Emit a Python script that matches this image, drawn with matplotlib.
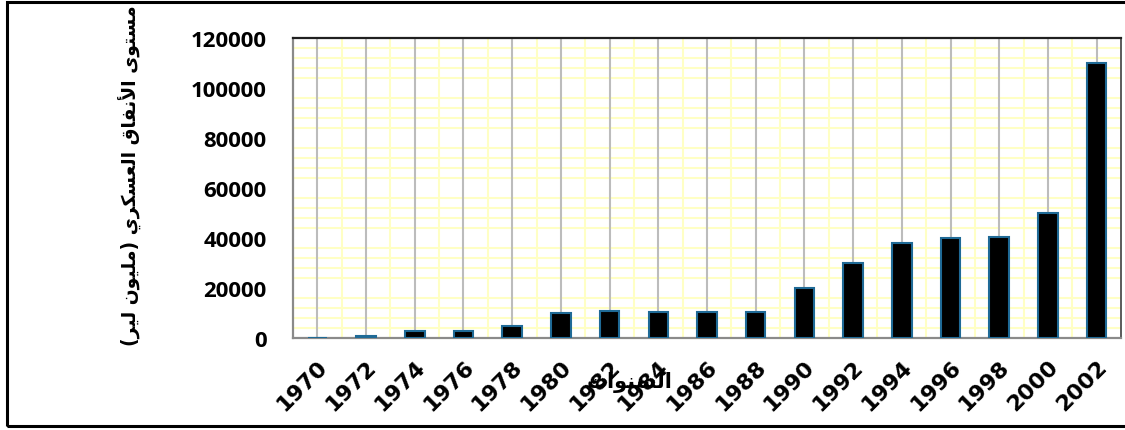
import numpy as np
import matplotlib
matplotlib.use("Agg")
import matplotlib.pyplot as plt
from matplotlib.patches import Rectangle
from matplotlib.ticker import MultipleLocator, FixedLocator

years = ["1970", "1972", "1974", "1976", "1978", "1980", "1982", "1984", "1986",
         "1988", "1990", "1992", "1994", "1996", "1998", "2000", "2002"]
spending = [0, 1000, 3000, 3000, 5000, 10000, 11000, 10500, 10300,
            10500, 20000, 30000, 38000, 40000, 40500, 50000, 110000]
y_ticks = [0, 20000, 40000, 60000, 80000, 100000, 120000]
y_title = "مستوى الأنفاق العسكري (مليون لير)"
x_title = "السنوات"

# matplotlib has no arabic shaping, so pick presentation forms by hand
FORMS = {
    'ا': ('\uFE8D', '\uFE8E', None, None),
    'أ': ('\uFE83', '\uFE84', None, None),
    'ت': ('\uFE95', '\uFE96', '\uFE97', '\uFE98'),
    'ر': ('\uFEAD', '\uFEAE', None, None),
    'س': ('\uFEB1', '\uFEB2', '\uFEB3', '\uFEB4'),
    'ع': ('\uFEC9', '\uFECA', '\uFECB', '\uFECC'),
    'ف': ('\uFED1', '\uFED2', '\uFED3', '\uFED4'),
    'ق': ('\uFED5', '\uFED6', '\uFED7', '\uFED8'),
    'ك': ('\uFED9', '\uFEDA', '\uFEDB', '\uFEDC'),
    'ل': ('\uFEDD', '\uFEDE', '\uFEDF', '\uFEE0'),
    'م': ('\uFEE1', '\uFEE2', '\uFEE3', '\uFEE4'),
    'ن': ('\uFEE5', '\uFEE6', '\uFEE7', '\uFEE8'),
    'و': ('\uFEED', '\uFEEE', None, None),
    'ى': ('\uFEEF', '\uFEF0', None, None),
    'ي': ('\uFEF1', '\uFEF2', '\uFEF3', '\uFEF4'),
}
LAM_ALEF = {'ا': ('\uFEFB', '\uFEFC'), 'أ': ('\uFEF7', '\uFEF8')}


def shape(s):
    toks = []
    i = 0
    while i < len(s):
        if s[i] == 'ل' and i + 1 < len(s) and s[i + 1] in LAM_ALEF:
            toks.append(('LIG', s[i + 1]))
            i += 2
        else:
            toks.append((s[i], None))
            i += 1

    def dual(t):
        return t[0] in FORMS and FORMS[t[0]][2] is not None

    def arabic(t):
        return t[0] == 'LIG' or t[0] in FORMS

    out = []
    for k, t in enumerate(toks):
        pj = k > 0 and dual(toks[k - 1]) and arabic(t)
        nj = k + 1 < len(toks) and dual(t) and arabic(toks[k + 1])
        if t[0] == 'LIG':
            out.append(LAM_ALEF[t[1]][1 if pj else 0])
        elif t[0] in FORMS:
            f = FORMS[t[0]]
            idx = 3 if (pj and nj) else 2 if nj else 1 if pj else 0
            out.append(f[idx])
        else:
            out.append(t[0])
    vis = ''.join(out)[::-1]
    return vis.translate(str.maketrans('()', ')('))


fig = plt.figure(figsize=(11.25, 4.31), dpi=100)
ax = fig.add_axes([293 / 1125, 1 - 339 / 431, (1121 - 293) / 1125, (339 - 39) / 431])

x = np.arange(len(years))
ax.bar(x, spending, width=0.4, color='black', edgecolor='#1f6a96', linewidth=1.5, zorder=3)

ax.set_xlim(-0.5, len(years) - 0.5)
ax.set_ylim(0, 120000)
ax.set_yticks(y_ticks)
ax.set_yticklabels([str(v) for v in y_ticks], fontsize=16, fontweight='bold', family='Open Sans')
ax.yaxis.set_minor_locator(MultipleLocator(4000))
ax.set_xticks(x)
ax.set_xticklabels(years, rotation=45, ha='right', va='top', rotation_mode='anchor',
                   fontsize=16, fontweight='bold', family='DejaVu Sans')
ax.xaxis.set_minor_locator(FixedLocator(np.arange(0.5, len(years) - 1, 1)))
ax.tick_params(axis='both', which='both', length=0)
ax.tick_params(axis='y', pad=19)
ax.tick_params(axis='x', pad=13)

ax.set_axisbelow(True)
ax.grid(axis='x', which='minor', color='#ffffc4', linewidth=1.5)
ax.grid(axis='y', which='minor', color='#ffffc4', linewidth=1.5)
ax.grid(axis='y', which='major', visible=False)
ax.grid(axis='x', which='major', color='#bcbcbc', linewidth=1.5)
# gray verticals sit on top of the yellow horizontals
ax.xaxis.set_zorder(0.7)

ax.spines['top'].set_color('#202020')
ax.spines['top'].set_linewidth(1.6)
ax.spines['right'].set_color('#404040')
ax.spines['right'].set_linewidth(1.2)
ax.spines['left'].set_color('#8a8a8a')
ax.spines['left'].set_linewidth(1.6)
ax.spines['bottom'].set_color('#8a8a8a')
ax.spines['bottom'].set_linewidth(1.6)

fig.text(130 / 1125, 1 - 176 / 431, shape(y_title), rotation=90, ha='center', va='center',
         fontsize=13.5, fontweight='bold', family=['DejaVu Sans'])
fig.text(630 / 1125, 1 - 383 / 431, shape(x_title), ha='center', va='center',
         fontsize=15, fontweight='bold', family=['DejaVu Sans'])

fig.add_artist(Rectangle((7 / 1125, 4 / 431), 1.2, (428 - 4) / 431, transform=fig.transFigure,
                         fill=False, edgecolor='black', linewidth=2.2))

fig.savefig('out.png', dpi=100)
